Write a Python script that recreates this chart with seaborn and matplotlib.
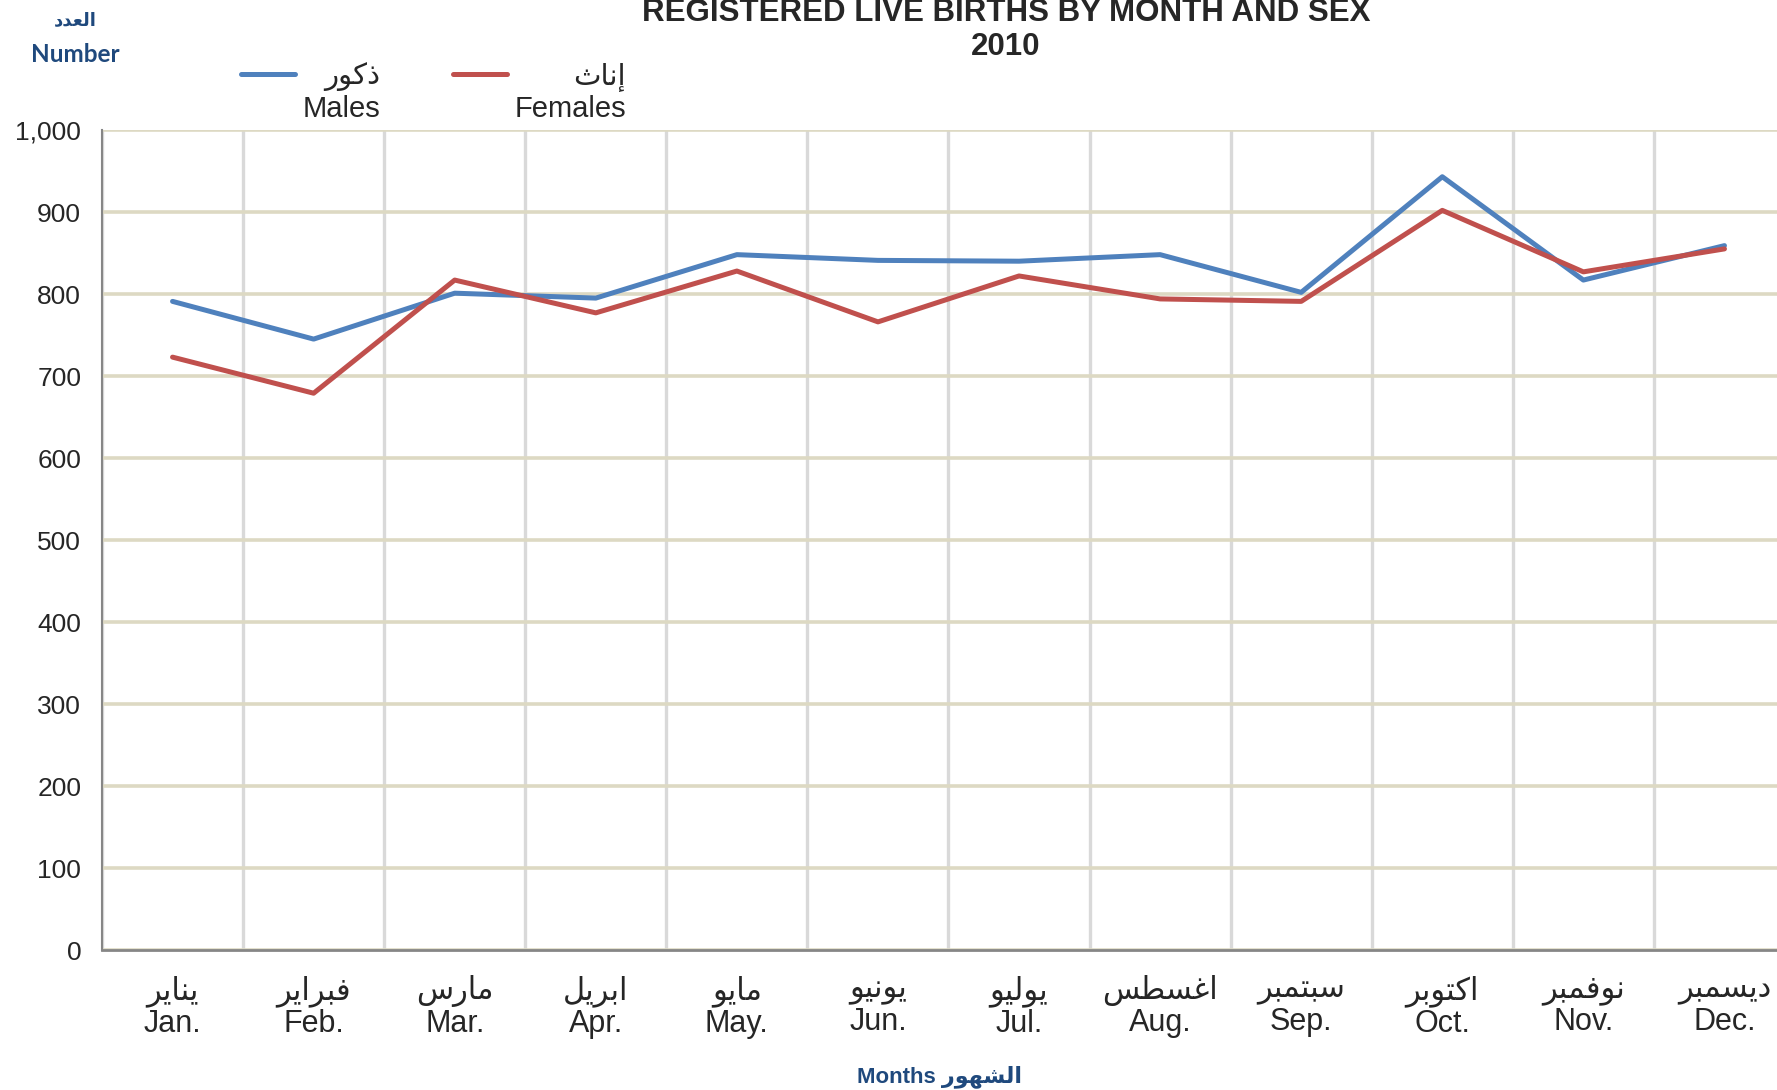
import matplotlib
matplotlib.use("Agg")
import matplotlib.pyplot as plt
import seaborn as sns
import pandas as pd
import numpy as np

# Data
months_en = ["Jan.", "Feb.", "Mar.", "Apr.", "May.", "Jun.",
             "Jul.", "Aug.", "Sep.", "Oct.", "Nov.", "Dec."]
months_ar = ["يناير", "فبراير", "مارس", "ابريل", "مايو", "يونيو",
             "يوليو", "اغسطس", "سبتمبر", "اكتوبر", "نوفمبر", "ديسمبر"]
males = [791, 745, 801, 795, 848, 841, 840, 848, 802, 943, 817, 859]
females = [723, 679, 817, 777, 828, 766, 822, 794, 791, 902, 827, 855]
y_ticks = [0, 100, 200, 300, 400, 500, 600, 700, 800, 900, 1000]

# Arabic shaping: matplotlib has no text layout, so map letters to their
# contextual presentation forms and write them in visual order
AR_FORMS = {
    "ا": (0xFE8D, False), "إ": (0xFE87, False), "ب": (0xFE8F, True),
    "ت": (0xFE95, True), "ث": (0xFE99, True), "د": (0xFEA9, False),
    "ذ": (0xFEAB, False), "ر": (0xFEAD, False), "س": (0xFEB1, True),
    "ش": (0xFEB5, True), "ط": (0xFEC1, True), "ع": (0xFEC9, True),
    "غ": (0xFECD, True), "ف": (0xFED1, True), "ك": (0xFED9, True),
    "ل": (0xFEDD, True), "م": (0xFEE1, True), "ن": (0xFEE5, True),
    "ه": (0xFEE9, True), "و": (0xFEED, False), "ي": (0xFEF1, True),
}


def ar(word):
    out = []
    for i, ch in enumerate(word):
        base, dual = AR_FORMS[ch]
        prev = i > 0 and AR_FORMS[word[i - 1]][1]
        nxt = dual and i < len(word) - 1
        off = 3 if (prev and nxt) else 1 if prev else 2 if nxt else 0
        out.append(chr(base + off))
    return "".join(reversed(out))


df = pd.DataFrame({
    "month": months_en * 2,
    "births": males + females,
    "sex": ["Males"] * 12 + ["Females"] * 12,
})

sns.set_style("white")
plt.rcParams["font.family"] = ["Liberation Sans", "DejaVu Sans"]

BLUE = "#4F81BD"
RED = "#C0504D"
NAVY = "#1F497D"

fig = plt.figure(figsize=(17.77, 10.90), dpi=100)
ax = fig.add_axes([102 / 1777, 1 - 950 / 1090, 1693 / 1777, 820 / 1090])

sns.lineplot(data=df, x="month", y="births", hue="sex", sort=False,
             palette={"Males": BLUE, "Females": RED}, linewidth=3.6,
             ax=ax, legend=False, zorder=3)

ax.set_xlim(-0.5, 11.5)
ax.set_ylim(0, 1000)
ax.set_yticks(y_ticks)
ax.set_yticklabels([f"{v:,}" for v in y_ticks], fontsize=19)
ax.set_xticks(range(12))
ax.set_xticklabels([f"{ar(a)}\n{e}" for a, e in zip(months_ar, months_en)],
                   fontsize=22, linespacing=1.1)
ax.set_xticks(np.arange(-0.5, 12, 1), minor=True)

ax.grid(False)
ax.grid(which="major", axis="y", color="#DDD9C3", linewidth=2.6, zorder=0)
ax.grid(which="minor", axis="x", color="#D9D9D9", linewidth=2.4, zorder=0)
ax.tick_params(axis="x", which="major", length=0, pad=18)
ax.tick_params(axis="x", which="minor", length=8, width=1.5, color="#868686")
ax.tick_params(axis="y", length=6, width=1.5, color="#868686", pad=9)

for s in ["top", "right"]:
    ax.spines[s].set_visible(False)
ax.spines["left"].set_color("#868686")
ax.spines["left"].set_linewidth(1.5)
ax.spines["bottom"].set_color("#868686")
ax.spines["bottom"].set_linewidth(2)

ax.set_xlabel("")
ax.set_ylabel("")

# legend: Arabic above English, key level with the Arabic line
handles = [plt.Line2D([], [], color=BLUE, lw=3.6, solid_capstyle="round"),
           plt.Line2D([], [], color=RED, lw=3.6, solid_capstyle="round")]
labels = [f"{ar('ذكور')}\nMales", f"{ar('إناث')}\nFemales"]
leg = ax.legend(handles, labels, loc="upper left",
                bbox_to_anchor=(241 / 1777, 1 - 62 / 1090),
                bbox_transform=fig.transFigure, ncol=2, frameon=False,
                fontsize=21, handlelength=1.85, handletextpad=0.25,
                columnspacing=2.5, borderpad=0, borderaxespad=0)
for t in leg.get_texts():
    t.set_multialignment("right")
for h in leg.legend_handles:
    h.set_ydata(np.asarray(h.get_ydata()) + 14)

fig.text(1006 / 1777, 1 - 30 / 1090,
         "REGISTERED LIVE BIRTHS BY MONTH AND SEX\n2010",
         ha="center", va="center", fontsize=22.5, fontweight="bold",
         linespacing=1.2)

fig.text(75 / 1777, 1 - 20 / 1090, ar("العدد"), ha="center", va="center",
         fontsize=13, fontweight="bold", color=NAVY,
         family=["Lato", "DejaVu Sans"])
fig.text(75 / 1777, 1 - 54 / 1090, "Number", ha="center", va="center",
         fontsize=17.5, fontweight="bold", color=NAVY,
         family=["Lato", "DejaVu Sans"])
fig.text(939 / 1777, 1 - 1077 / 1090, "Months " + ar("الشهور"),
         ha="center", va="center", fontsize=16, fontweight="bold",
         color=NAVY, family=["Liberation Sans", "DejaVu Sans"])

fig.savefig("out.png", dpi=100)
